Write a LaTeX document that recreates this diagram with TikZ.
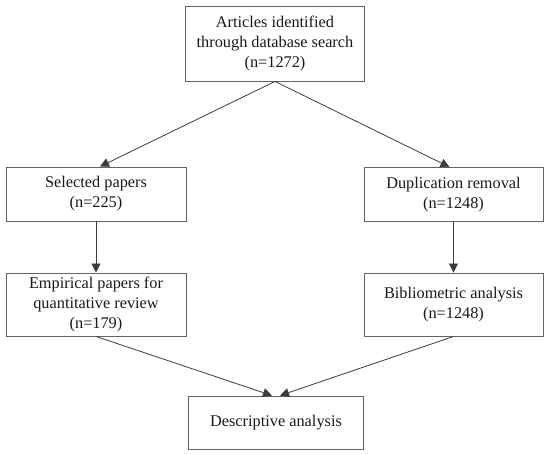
\documentclass[tikz,border=0pt]{standalone}
\usepackage{fontspec}
\setmainfont{Liberation Serif}
\usepackage{tikz}
\usetikzlibrary{arrows.meta}
\definecolor{boxline}{RGB}{100,100,100}
\definecolor{arrline}{RGB}{60,60,60}
\tikzstyle{stage}=[draw=boxline,line width=0.9pt,align=center,inner sep=0pt,
  font=\fontsize{16.3}{20}\selectfont,text=black!90]
\tikzstyle{flow}=[draw=arrline,line width=0.8pt,-{Triangle[length=9pt,width=9pt]}]

\begin{document}
\begin{tikzpicture}[x=1pt,y=-1pt]
\useasboundingbox (0,0) rectangle (550,455);
\node [stage,minimum width=179pt,minimum height=75pt] (search) at (275,43.5)
  {Articles identified\\through database search\\(n=1272)};
\node [stage,minimum width=180pt,minimum height=54pt] (selected) at (96,194)
  {Selected papers\\(n=225)};
\node [stage,minimum width=179pt,minimum height=54pt] (dupl) at (453.5,194.5)
  {Duplication removal\\(n=1248)};
\node [stage,minimum width=180pt,minimum height=63pt] (empirical) at (96,304.5)
  {Empirical papers for\\quantitative review\\(n=179)};
\node [stage,minimum width=179pt,minimum height=63pt] (biblio) at (453.5,304.5)
  {Bibliometric analysis\\(n=1248)};
\node [stage,minimum width=175pt,minimum height=53pt] (descr) at (276,422.5)
  {Descriptive analysis};

\draw [flow] (search.south) -- ([xshift=4pt]selected.north);
\draw [flow] (search.south) -- ([xshift=-4pt]dupl.north);
\draw [flow] (selected.south) -- (empirical.north);
\draw [flow] (dupl.south) -- (biblio.north);
\draw [flow] (empirical.south) -- ([xshift=-4pt]descr.north);
\draw [flow] (biblio.south) -- ([xshift=4pt]descr.north);
\end{tikzpicture}
\end{document}
